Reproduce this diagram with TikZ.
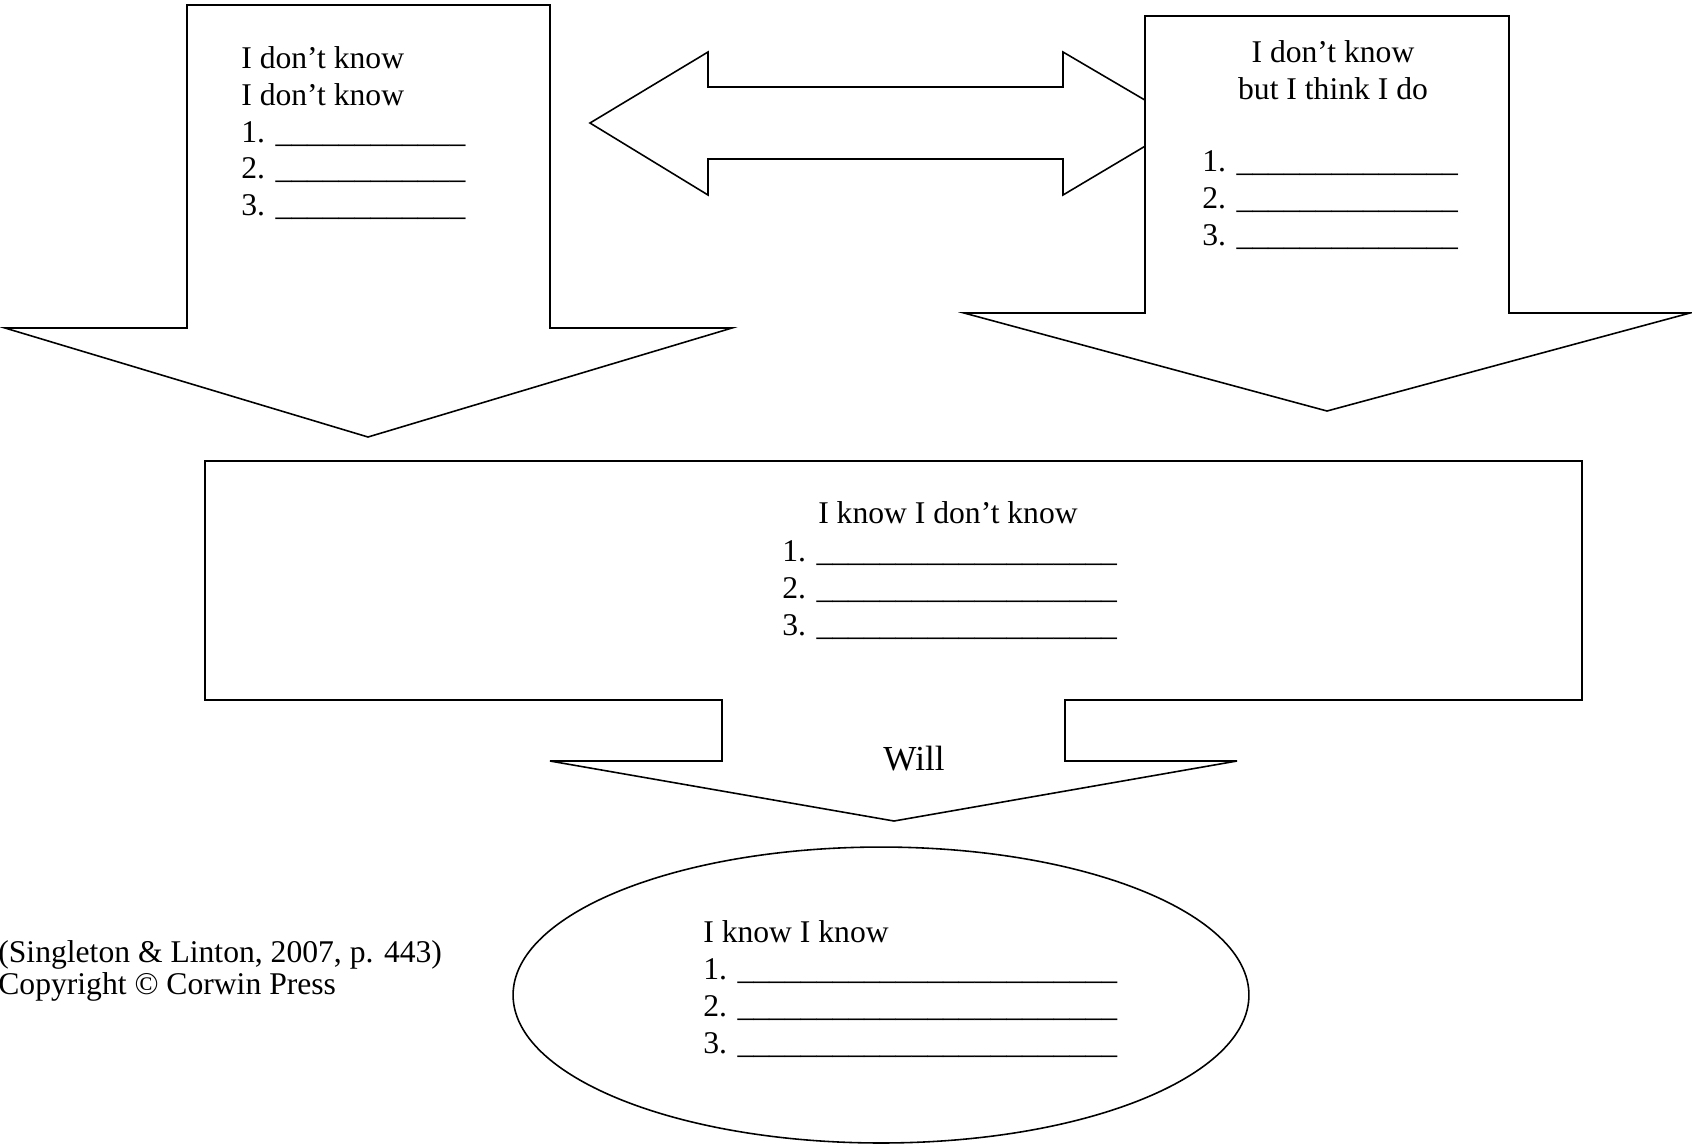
\documentclass[tikz,border=0pt]{standalone}
\usepackage{fontspec}
\setmainfont{Liberation Serif}
\usetikzlibrary{positioning}

\tikzset{
  blockarrow/.style={draw, fill=white, line width=0.9pt, line join=miter},
  listtext/.style={font=\fontsize{18}{21}\selectfont, inner sep=0pt, align=left, anchor=north west},
  titletext/.style={font=\fontsize{18}{21}\selectfont, inner sep=0pt, align=center, anchor=north},
}
\newcommand{\answerline}[1]{\foreach \n in {1,...,#1}{\_}}

\begin{document}
\begin{tikzpicture}[x=0.02cm, y=-0.02cm]
  \useasboundingbox (0,0) rectangle (1692,1144);

  % Double arrow between the top boxes
  \draw[blockarrow] (590,123) -- (708,52) -- (708,87) -- (1063,87) -- (1063,52)
    -- (1184,123) -- (1063,195) -- (1063,159) -- (708,159) -- (708,195) -- cycle;

  % Left down arrow
  \draw[blockarrow] (187,5) -- (550,5) -- (550,328) -- (732,328) -- (368,437)
    -- (5,328) -- (187,328) -- cycle;
  \node[listtext] (dontknow) at (241,46)
    {I don’t know\\I don’t know\\1. \answerline{12}\\2. \answerline{12}\\3. \answerline{12}};

  % Right down arrow
  \draw[blockarrow] (1145,16) -- (1509,16) -- (1509,313) -- (1690,313) -- (1327,411)
    -- (964,313) -- (1145,313) -- cycle;
  \node[titletext] (thinkdo) at (1333,40) {I don’t know\\but I think I do};
  \node[listtext] (thinkdolist) at (1202,150)
    {1. \answerline{14}\\2. \answerline{14}\\3. \answerline{14}};

  % Middle box
  \draw[blockarrow] (205,461) -- (1582,461) -- (1582,700) -- (1065,700) -- (1065,761)
    -- (1237,761) -- (894,821) -- (550,761) -- (722,761) -- (722,700) -- (205,700) -- cycle;
  \node[titletext] (knowdont) at (948,501) {I know I don’t know};
  \node[listtext] (knowdontlist) at (782,540)
    {1. \answerline{19}\\2. \answerline{19}\\3. \answerline{19}};
  \node[font=\fontsize{20}{24}\selectfont, inner sep=0pt, anchor=base] (will) at (914,770) {Will};

  % Ellipse
  \draw[line width=0.9pt] (881,995) ellipse [x radius=7.36cm, y radius=2.96cm];
  \node[listtext] (knowknow) at (703,920)
    {I know I know\\1. \answerline{24}\\2. \answerline{24}\\3. \answerline{24}};

  % Source
  \node[font=\fontsize{18}{18.5}\selectfont, inner sep=0pt, align=left, anchor=north west] (source) at (-2,940)
    {(Singleton \& Linton, 2007, p. 443)\\Copyright © Corwin Press};
\end{tikzpicture}
\end{document}
